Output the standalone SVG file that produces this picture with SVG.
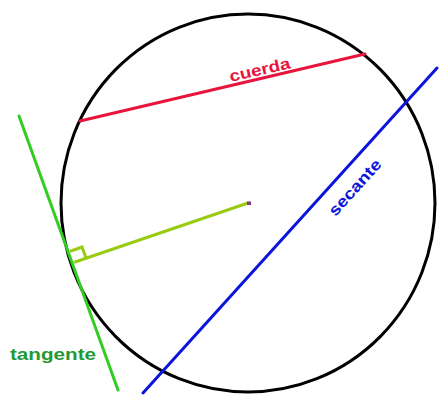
<svg xmlns="http://www.w3.org/2000/svg" width="439" height="399" viewBox="0 0 439 399">
<style>
.lbl{font-family:"Liberation Sans",Arial,sans-serif;font-weight:bold;font-size:16px}
.ln{fill:none;stroke-width:3;stroke-linecap:round}
</style>
<rect width="439" height="399" fill="#ffffff"/>
<g id="circle"><ellipse cx="248" cy="203" rx="187" ry="189" fill="none" stroke="#000" stroke-width="3"/></g>
<g id="connectors">
<line id="cuerda-line" class="ln" x1="80" y1="121" x2="365" y2="54" stroke="#e8143c"/>
<line id="tangente-line" class="ln" x1="19" y1="116" x2="118" y2="390" stroke="#33cc22"/>
<line id="secante-line" class="ln" x1="143" y1="393" x2="437" y2="68" stroke="#0a14dc"/>
<line id="radio-line" class="ln" x1="75" y1="262" x2="248" y2="203" stroke="#99cc11"/>
<polyline id="right-angle" class="ln" points="86,258 82,247 71,251" stroke="#99cc11"/>
</g>
<g id="center"><rect x="247" y="201.5" width="4" height="3.5" fill="#8a3a8a"/></g>
<g id="cuerda"><text class="lbl" fill="#e8143c" transform="translate(261,75) rotate(-13)" text-anchor="middle" textLength="62" lengthAdjust="spacingAndGlyphs">cuerda</text></g>
<g id="tangente"><text class="lbl" fill="#229933" x="10" y="360" textLength="86" lengthAdjust="spacingAndGlyphs">tangente</text></g>
<g id="secante"><text class="lbl" fill="#0a14dc" transform="translate(359,191) rotate(-48)" text-anchor="middle" textLength="70" lengthAdjust="spacingAndGlyphs">secante</text></g>
</svg>
